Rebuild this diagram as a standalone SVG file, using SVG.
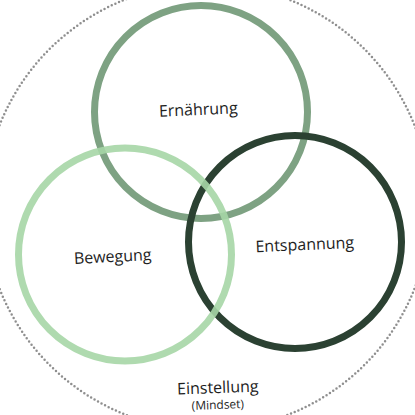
<svg xmlns="http://www.w3.org/2000/svg" width="415" height="415" viewBox="0 0 415 415">
  <style>
    .ring { fill: none; stroke-width: 7; }
    .label { font-family: "Open Sans", "Noto Sans", sans-serif; font-size: 16px; fill: #1e1e1e; text-anchor: middle; }
    .small { font-size: 12px; }
  </style>
  <rect width="415" height="415" fill="#ffffff"/>
  <g id="einstellung">
    <circle cx="207" cy="207" r="223" fill="none" stroke="#8f8f8f" stroke-width="2.5" stroke-dasharray="0 4" stroke-linecap="round"/>
    <text class="label" x="218" y="393" transform="rotate(-2 218 393)">Einstellung</text>
    <text class="label small" x="218" y="409" transform="rotate(-2 218 409)">(Mindset)</text>
  </g>
  <g id="connectors"></g>
  <g id="ernaehrung">
    <circle class="ring" cx="201" cy="112" r="106.5" stroke="#7ea283"/>
    <text class="label" x="198.5" y="115" transform="rotate(-2.5 198.5 115)">Ernährung</text>
  </g>
  <g id="entspannung">
    <circle class="ring" cx="295" cy="242" r="106.5" stroke="#2b4132"/>
    <text class="label" x="305" y="250" transform="rotate(-2.5 305 250)">Entspannung</text>
  </g>
  <g id="bewegung">
    <circle class="ring" cx="125" cy="254.5" r="106.5" stroke="#a6d6a6" stroke-opacity="0.9"/>
    <text class="label" x="113" y="262" transform="rotate(-3 113 262)">Bewegung</text>
  </g>
</svg>
